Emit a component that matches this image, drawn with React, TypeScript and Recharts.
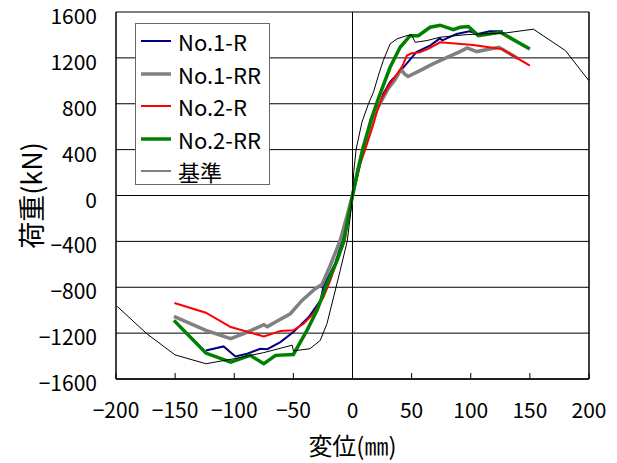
import { LineChart, Line, XAxis, YAxis, CartesianGrid, ReferenceLine, Legend, Label } from 'recharts';

// 変位(mm), 荷重(kN)
const no1R: [number, number][] = [
  [-124, -1351], [-109, -1316], [-99, -1403], [-89, -1380], [-78, -1336], [-72, -1340],
  [-61, -1278], [-50, -1191], [-37, -1060], [-27, -915], [-24.5, -790], [-15, -600],
  [-8, -380], [0, 0], [10, 420], [20, 720], [26, 886], [31.8, 990], [41.7, 1100],
  [54, 1250], [65.6, 1307], [74, 1370], [76, 1352], [88, 1409], [99, 1432], [106, 1409],
  [116, 1432], [127, 1432],
];

const no1RR: [number, number][] = [
  [-151, -1054], [-124, -1176], [-103, -1249], [-92, -1205], [-80, -1150], [-75, -1127],
  [-72, -1145], [-67, -1113], [-52.6, -1031], [-42.7, -915], [-31.5, -813], [-25.8, -776],
  [-18.8, -610], [-10.4, -392], [-3.4, -131], [0, 0], [5, 250], [10, 440], [20, 740],
  [30, 930], [36, 1010], [41, 1100], [44, 1060], [47, 1037], [57, 1089], [68, 1148],
  [80, 1205], [90, 1250], [97, 1287], [105, 1255], [115, 1275], [124, 1292], [140, 1195],
];

const no2R: [number, number][] = [
  [-150.6, -938], [-124, -1022], [-103, -1147], [-75, -1229], [-61, -1182], [-50, -1176],
  [-41.4, -1118], [-33, -1031], [-24.5, -886], [-18.8, -741], [-12, -540], [-6.7, -400],
  [-3.4, -190], [0, 0], [5, 230], [10.7, 400], [17, 600], [21, 741], [25, 850],
  [31.8, 973], [41.7, 1118], [46, 1220], [50, 1240], [57, 1249], [64, 1278], [74, 1336],
  [102, 1313], [126, 1278], [150, 1133],
];

const no2RR: [number, number][] = [
  [-151, -1089], [-124, -1374], [-103, -1453], [-86.5, -1394], [-75, -1467], [-65, -1394],
  [-50, -1386], [-38.5, -1176], [-30, -1002], [-21.6, -770], [-13, -566], [-7.5, -400],
  [0, 0], [8.5, 400], [15.5, 654], [22, 850], [31.8, 1118], [40.3, 1292], [48.7, 1394],
  [55.7, 1394], [65.6, 1467], [74, 1485], [85.3, 1447], [91, 1467], [98, 1473],
  [106.4, 1394], [125, 1423], [150, 1278],
];

const kijun: [number, number][] = [
  [-199, -967], [-174, -1205], [-150, -1390], [-124, -1467], [-100, -1423], [-75, -1370],
  [-51, -1305], [-50, -1355], [-36, -1336], [-27.3, -1264], [-21.6, -1118], [-16, -886],
  [-10.4, -654], [-4.5, -400], [-1.5, -150], [0, 0], [1, 200], [3, 400], [8, 640],
  [13.5, 800], [17.7, 900], [22, 1050], [26, 1176], [31.8, 1322], [37.5, 1365],
  [46, 1394], [50, 1400], [53, 1336], [63, 1351], [74, 1380], [97, 1403], [130, 1418],
  [153, 1450], [180, 1264], [200, 1000],
];

const xTicks = [-200, -150, -100, -50, 0, 50, 100, 150, 200];
const yTicks = [-1600, -1200, -800, -400, 0, 400, 800, 1200, 1600];

const series = [
  { name: 'No.1-R', pts: no1R, color: '#000080', width: 2 },
  { name: 'No.1-RR', pts: no1RR, color: '#808080', width: 3.5 },
  { name: 'No.2-R', pts: no2R, color: '#ff0000', width: 2 },
  { name: 'No.2-RR', pts: no2RR, color: '#008000', width: 3.5 },
  { name: '基準', pts: kijun, color: '#000000', width: 1 },
];

const FONT = '"Noto Sans CJK JP", "Noto Sans", sans-serif';
const fmt = (v: number) => String(v).replace('-', '−');

const XTick = (props: any) => {
  const { x, y, payload } = props;
  return (
    <g>
      <line x1={x} y1={y} x2={x} y2={y - 6} stroke="#000" strokeWidth={1} />
      <text x={x} y={y + 30} textAnchor="middle" dominantBaseline="central" fontSize={21} fill="#000" fontFamily={FONT}>
        {fmt(payload.value)}
      </text>
    </g>
  );
};

const YTick = (props: any) => {
  const { x, y, payload } = props;
  return (
    <text x={x} y={y + 3} textAnchor="end" dominantBaseline="central" fontSize={21} fill="#000" fontFamily={FONT}>
      {fmt(payload.value)}
    </text>
  );
};

const LegendBox = () => (
  <div style={{ width: 135, height: 162, border: '1px solid #666', background: '#fff', boxSizing: 'border-box', paddingTop: 1, fontFamily: FONT }}>
    {series.map((s) => (
      <div key={s.name} style={{ height: 32.5, display: 'flex', alignItems: 'center' }}>
        <svg width={42} height={10} style={{ flex: 'none' }}>
          <line x1={5} y1={5} x2={35} y2={5} stroke={s.color} strokeWidth={s.width} />
        </svg>
        <span style={{ fontSize: 22, color: '#000', lineHeight: 1 }}>{s.name}</span>
      </div>
    ))}
  </div>
);

export default function App() {
  return (
    <div style={{ position: 'absolute', left: 0, top: 0, width: 617, height: 463, background: '#fff' }}>
      <LineChart width={617} height={463} margin={{ top: 12, right: 28, bottom: 24, left: 36 }}>
        <CartesianGrid horizontal vertical={false} stroke="#000" strokeWidth={1} />
        <XAxis
          type="number"
          dataKey="x"
          domain={[-200, 200]}
          ticks={xTicks}
          allowDataOverflow
          height={60}
          tickSize={0}
          tickMargin={0}
          tick={<XTick />}
          axisLine={{ stroke: '#000', strokeWidth: 1.5 }}
          interval={0}
        >
          <Label
            content={(p: any) => {
              const vb = p.viewBox;
              return (
                <text x={vb.x + vb.width / 2} y={vb.y + 65} textAnchor="middle" dominantBaseline="central" fontSize={24} fill="#000" fontFamily={FONT}>
                  変位(㎜)
                </text>
              );
            }}
          />
        </XAxis>
        <YAxis
          type="number"
          domain={[-1600, 1600]}
          ticks={yTicks}
          width={80}
          tickSize={0}
          tickMargin={19}
          tick={<YTick />}
          axisLine={{ stroke: '#000', strokeWidth: 1.5 }}
          interval={0}
        >
          <Label
            content={(p: any) => {
              const vb = p.viewBox;
              const cx = vb.x - 6;
              const cy = vb.y + vb.height / 2;
              return (
                <text x={cx} y={cy} transform={`rotate(-90, ${cx}, ${cy})`} textAnchor="middle" dominantBaseline="central" fontSize={27} fill="#000" fontFamily={FONT}>
                  荷重(kN)
                </text>
              );
            }}
          />
        </YAxis>
        <ReferenceLine x={0} stroke="#000" strokeWidth={1} />
        <ReferenceLine x={200} stroke="#000" strokeWidth={1.5} />
        {series.map((s) => (
          <Line
            key={s.name}
            data={s.pts.map(([x, y]) => ({ x, y }))}
            dataKey="y"
            name={s.name}
            type="linear"
            stroke={s.color}
            strokeWidth={s.width}
            dot={false}
            activeDot={false}
            isAnimationActive={false}
          />
        ))}
        <Legend
          layout="vertical"
          align="center"
          verticalAlign="middle"
          wrapperStyle={{ left: 135, top: 23, width: 135, height: 162 }}
          content={() => <LegendBox />}
        />
      </LineChart>
    </div>
  );
}
